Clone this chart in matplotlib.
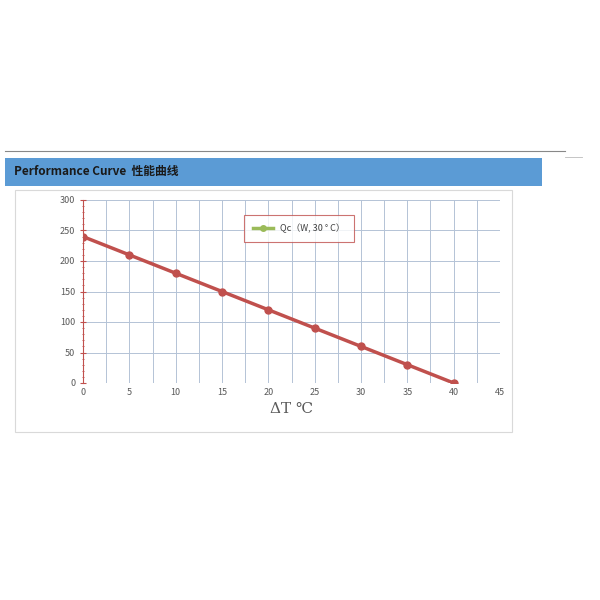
import matplotlib
matplotlib.use("Agg")
import matplotlib.pyplot as plt
from matplotlib.patches import Rectangle
from matplotlib.lines import Line2D
import numpy as np

plt.rcParams['font.family'] = ['Noto Sans CJK SC', 'DejaVu Sans']

delta_t = [0, 5, 10, 15, 20, 25, 30, 35, 40]
qc = [240, 210, 180, 150, 120, 90, 60, 30, 0]

W, H = 600, 600
fig = plt.figure(figsize=(6, 6), dpi=100)


def fx(px):
    return px / W


def fy(py):
    return 1 - py / H


# top rule and header bar
fig.add_artist(Line2D([fx(5), fx(565)], [fy(151), fy(151)], color="#888888", lw=0.8))
fig.add_artist(Line2D([fx(565), fx(582)], [fy(157), fy(157)], color="#bbbbbb", lw=0.6))
fig.add_artist(Rectangle((fx(5), fy(186)), fx(537), 28 / H, color="#5b9bd5", lw=0))
fig.text(fx(14), fy(172), "Performance Curve  性能曲线", fontsize=8.5, fontweight="bold",
         color="#1a1a1a", va="center")
# chart frame
fig.add_artist(Rectangle((fx(15), fy(432)), fx(497), 242 / H, fill=False,
                         edgecolor="#d9d9d9", lw=0.8))

ax = fig.add_axes([fx(83), fy(383), fx(417), 183 / H])
ax.plot(delta_t, qc, color="#c0504d", lw=2.5, marker="o", markersize=5, zorder=3)
ax.set_xlim(0, 45)
ax.set_ylim(0, 300)
ax.set_xticks(range(0, 46, 5))
ax.set_yticks(range(0, 301, 50))
ax.set_xticks(np.arange(0, 45.1, 2.5), minor=True)
ax.set_yticks(range(0, 301, 10), minor=True)
ax.grid(True, which="major", color="#b4c3d6", lw=0.7)
ax.grid(True, which="minor", axis="x", color="#b4c3d6", lw=0.7)
for s in ["top", "right", "bottom"]:
    ax.spines[s].set_visible(False)
ax.spines["left"].set_color("#c0504d")
ax.tick_params(axis="both", labelsize=6.5, colors="#595959", length=0)
ax.tick_params(axis="y", which="both", direction="inout", color="#c0504d", length=4)
ax.tick_params(axis="y", which="minor", length=2)
ax.tick_params(axis="x", which="minor", length=0)
ax.set_xlabel("ΔT ℃", fontsize=11, color="#595959", family=["DejaVu Serif"])

leg = ax.legend([Line2D([], [], color="#9bbb59", lw=2.5, marker="o", markersize=4)],
                ["Qc（W, 30 ° C）"], loc="upper left", bbox_to_anchor=(0.376, 0.945),
                fontsize=6.5, frameon=True, fancybox=False, handlelength=2.2,
                borderpad=1.0, labelcolor="#404040")
leg.get_frame().set_edgecolor("#c0504d")
leg.get_frame().set_linewidth(0.8)

fig.savefig("out.png", dpi=100)
